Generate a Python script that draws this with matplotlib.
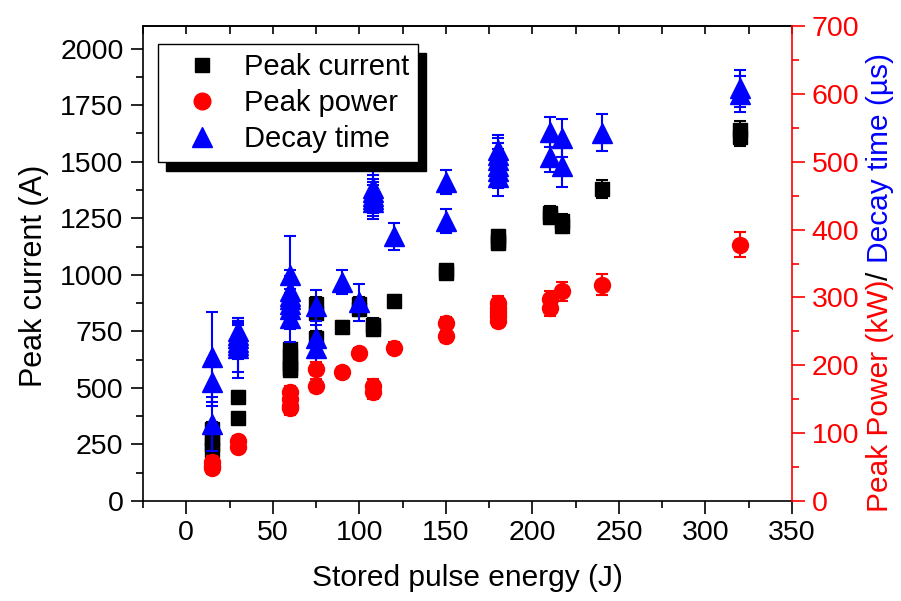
import matplotlib
matplotlib.use('Agg')
import matplotlib.pyplot as plt
from matplotlib.lines import Line2D
from matplotlib.ticker import MultipleLocator
from matplotlib.font_manager import FontProperties

plt.rcParams['font.family'] = ['Liberation Sans', 'DejaVu Sans']

# peak current (A), left axis
current_E = [15, 15, 15, 15, 30, 30, 60, 60, 60, 60, 60, 75, 75, 75, 90, 100, 100,
             108, 108, 120, 150, 150, 180, 180, 180, 210, 210, 217, 217, 240, 320, 320]
current_A = [320, 280, 250, 225, 460, 365, 670, 640, 610, 590, 580, 870, 830, 720, 770, 870, 850,
             780, 760, 885, 1020, 1010, 1170, 1150, 1140, 1275, 1255, 1240, 1215, 1380, 1640, 1610]
current_err = [30, 30, 30, 30, 25, 25, 30, 30, 30, 30, 30, 30, 30, 30, 25, 30, 30,
               30, 30, 25, 25, 25, 30, 30, 30, 30, 30, 30, 30, 40, 40, 40]

# peak power (kW), right axis
power_E = [15, 15, 15, 30, 30, 60, 60, 60, 60, 75, 75, 90, 100, 108, 108, 120, 150, 150,
           180, 180, 180, 180, 180, 210, 210, 217, 240, 320]
power_kW = [58, 52, 48, 88, 80, 160, 150, 140, 137, 195, 170, 190, 218, 170, 160, 226, 263, 243,
            292, 285, 278, 272, 266, 297, 285, 309, 319, 378]
power_err = [8, 8, 8, 8, 8, 10, 10, 10, 10, 10, 10, 8, 8, 10, 10, 8, 8, 8,
             10, 10, 10, 10, 10, 12, 12, 14, 15, 18]

# decay time (us), right axis
decay_E = [15, 15, 15, 30, 30, 30, 30, 30, 30, 60, 60, 60, 60, 60, 60, 60, 75, 75, 75,
           90, 100, 108, 108, 108, 108, 108, 120, 150, 150,
           180, 180, 180, 180, 180, 180, 210, 210, 217, 217, 240, 320, 320]
decay_us = [212, 175, 113, 250, 245, 240, 235, 230, 225, 333, 310, 302, 297, 290, 283, 270, 288, 240, 225,
            323, 293, 462, 455, 450, 445, 440, 390, 470, 413,
            518, 510, 502, 494, 486, 478, 544, 507, 535, 493, 543, 608, 600]
decay_err = [66, 35, 40, 16, 20, 22, 25, 40, 44, 57, 30, 30, 30, 30, 30, 36, 23, 25, 34,
             18, 27, 25, 25, 25, 25, 25, 20, 18, 18,
             22, 25, 25, 25, 25, 28, 22, 22, 28, 30, 27, 27, 27]

fs = 20.5

fig = plt.figure(figsize=(9.01, 6.01), dpi=100)
ax = fig.add_axes([143 / 901, 1 - 501 / 601, (792 - 143) / 901, (501 - 26) / 601])
ax2 = ax.twinx()

eb = dict(capsize=4.3, capthick=1.5, elinewidth=1.5, linestyle='none')
ax.errorbar(current_E, current_A, yerr=current_err, fmt='s', color='black', ms=10, **eb)
ax2.errorbar(power_E, power_kW, yerr=power_err, fmt='o', color='red', ms=11.5, **eb)
ax2.errorbar(decay_E, decay_us, yerr=decay_err, fmt='^', color='blue', ms=14, **eb)

ax.set_xlim(-25, 350)
ax.set_ylim(0, 2100)
ax2.set_ylim(0, 700)

ax.xaxis.set_major_locator(MultipleLocator(50))
ax.xaxis.set_minor_locator(MultipleLocator(25))
ax.yaxis.set_major_locator(MultipleLocator(250))
ax.yaxis.set_minor_locator(MultipleLocator(125))
ax2.yaxis.set_major_locator(MultipleLocator(100))
ax2.yaxis.set_minor_locator(MultipleLocator(50))

for s in ax.spines.values():
    s.set_linewidth(1.2)
ax.spines['right'].set_visible(False)
for k in ['left', 'top', 'bottom']:
    ax2.spines[k].set_visible(False)
ax2.spines['right'].set_color('red')
ax2.spines['right'].set_linewidth(1.2)

ax.tick_params(which='major', direction='out', length=9, width=1.2, labelsize=fs, pad=5)
ax.tick_params(which='minor', direction='out', length=5, width=1.2)
ax.tick_params(axis='y', which='both', right=False)
ax2.tick_params(which='major', direction='out', length=9, width=1.2, colors='red', labelsize=fs, pad=5)
ax2.tick_params(which='minor', direction='out', length=5, width=1.2, colors='red')

top = ax.secondary_xaxis('top')
top.xaxis.set_major_locator(MultipleLocator(50))
top.xaxis.set_minor_locator(MultipleLocator(25))
top.tick_params(which='both', direction='in', length=6, width=1.2, labeltop=False)
top.spines['top'].set_linewidth(1.2)

fig.text(467 / 901, 1 - 578 / 601, 'Stored pulse energy (J)', ha='center', va='center', fontsize=21.5)
fig.text(34 / 901, 1 - 276 / 601, 'Peak current (A)', ha='center', va='center', rotation=90, fontsize=22)

handles = [
    Line2D([], [], marker='s', color='black', ls='none', ms=10.5),
    Line2D([], [], marker='o', color='red', ls='none', ms=12),
    Line2D([], [], marker='^', color='blue', ls='none', ms=15),
]
leg = ax2.legend(handles, ['Peak current', 'Peak power', 'Decay time'],
                 loc='upper left', bbox_to_anchor=(0.023, 0.962), borderaxespad=0,
                 fontsize=21, fancybox=False, framealpha=1, edgecolor='black',
                 borderpad=0.3, handlelength=2.4, handletextpad=0.26, labelspacing=0.28,
                 shadow={'ox': 5.8, 'oy': -6.5, 'facecolor': 'black', 'edgecolor': 'black', 'alpha': 1})
leg.get_frame().set_linewidth(1.0)

# right axis label in three colours
fig.canvas.draw()
r = fig.canvas.get_renderer()
lab_fs = 21.5
prop = FontProperties(family=['Liberation Sans', 'DejaVu Sans'], size=lab_fs)
pieces = [('Peak Power (kW)', 'red'), ('/', 'black'), (' Decay time (µs)', 'blue')]
x0 = 888 / 901
y0 = 1 - 512 / 601
H = fig.bbox.height
full = ''
for txt, col in pieces:
    full += txt
    w_full = r.get_text_width_height_descent(full, prop, ismath=False)[0]
    w_txt = r.get_text_width_height_descent(txt.strip(), prop, ismath=False)[0]
    start = (w_full - w_txt) / H
    fig.text(x0, y0 + start, txt.strip(), color=col, fontproperties=prop, rotation=90,
             rotation_mode='anchor', ha='left', va='baseline')

fig.savefig('out.png', dpi=100)
